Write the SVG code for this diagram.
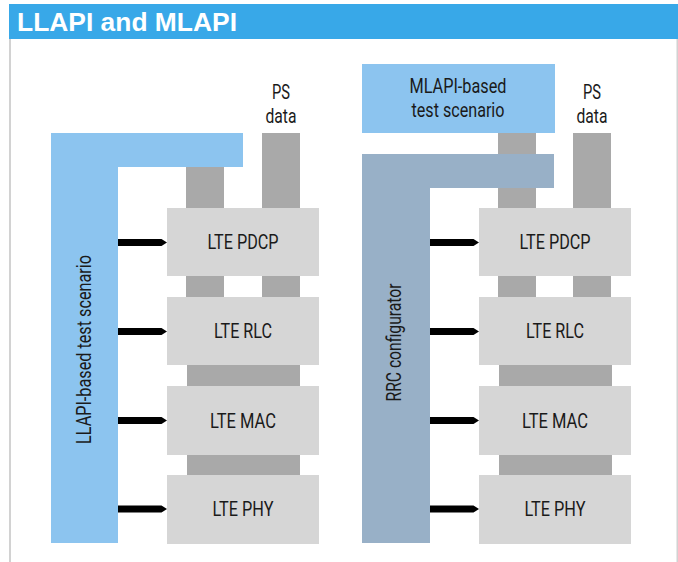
<svg xmlns="http://www.w3.org/2000/svg" width="678" height="562" viewBox="0 0 678 562">
  <style>
    .frame { fill: #d2d2d2; }
    .title { font-family: "Liberation Sans", Arial, sans-serif; font-weight: bold; font-size: 25px; fill: #ffffff; }
    .lbl { font-family: Roboto, "Liberation Sans", sans-serif; font-size: 20px; fill: #1a1a1a; text-anchor: middle; }
    .small { font-size: 19.5px; }
    .layer { fill: #d6d6d6; }
    .pipe { fill: #a9a9a9; }
    .llapi { fill: #8cc4ef; }
    .mlapi { fill: #8cc4ef; }
    .rrc { fill: #98b0c7; }
    .arrow { fill: #000000; }
  </style>
  <defs>
    <!-- thick control arrow pointing right, 49 px long -->
    <polygon id="ctl" points="0,-3.5 43.5,-3.5 49,0 43.5,3.5 0,3.5"/>
  </defs>

  <!-- page frame and heading -->
  <rect width="678" height="562" fill="#ffffff"/>
  <rect class="frame" x="9" y="39" width="2" height="523"/>
  <rect class="frame" x="676.5" y="39" width="1.5" height="523"/>
  <rect x="9" y="4" width="669" height="35" fill="#38a8e8"/>
  <text class="title" x="17" y="30.7" textLength="220" lengthAdjust="spacingAndGlyphs">LLAPI and MLAPI</text>

  <!-- data pipes between the protocol layers -->
  <g id="pipes">
    <rect class="pipe" x="186" y="150" width="38" height="147"/>
    <rect class="pipe" x="262" y="133" width="38" height="164"/>
    <rect class="pipe" x="187" y="360" width="113" height="120"/>
    <rect class="pipe" x="498" y="130" width="38" height="167"/>
    <rect class="pipe" x="573" y="133" width="38" height="164"/>
    <rect class="pipe" x="499" y="360" width="113" height="120"/>
  </g>

  <!-- left stack: LLAPI -->
  <g id="llapi-scenario">
    <path class="llapi" d="M51,133 H243 V167 H118 V543 H51 Z"/>
    <text class="lbl" transform="translate(90.5,349.5) rotate(-90)" textLength="189" lengthAdjust="spacingAndGlyphs">LLAPI-based test scenario</text>
  </g>
  <g id="ps-data-left">
    <text class="lbl small" x="281" y="99.3" textLength="18" lengthAdjust="spacingAndGlyphs">PS</text>
    <text class="lbl small" x="281" y="123.3" textLength="31" lengthAdjust="spacingAndGlyphs">data</text>
  </g>
  <g id="l-pdcp">
    <rect class="layer" x="167" y="208" width="152" height="68"/>
    <text class="lbl" x="243" y="249.3" textLength="71" lengthAdjust="spacingAndGlyphs">LTE PDCP</text>
  </g>
  <g id="l-rlc">
    <rect class="layer" x="167" y="297" width="152" height="68"/>
    <text class="lbl" x="243" y="338" textLength="58" lengthAdjust="spacingAndGlyphs">LTE RLC</text>
  </g>
  <g id="l-mac">
    <rect class="layer" x="167" y="386" width="152" height="69"/>
    <text class="lbl" x="243" y="427.5" textLength="66" lengthAdjust="spacingAndGlyphs">LTE MAC</text>
  </g>
  <g id="l-phy">
    <rect class="layer" x="167" y="475" width="152" height="69"/>
    <text class="lbl" x="243" y="516" textLength="61" lengthAdjust="spacingAndGlyphs">LTE PHY</text>
  </g>

  <!-- right stack: MLAPI via RRC configurator -->
  <g id="mlapi-scenario">
    <rect class="mlapi" x="362" y="64" width="193" height="69"/>
    <text class="lbl small" x="458" y="92.7" textLength="97" lengthAdjust="spacingAndGlyphs">MLAPI-based</text>
    <text class="lbl small" x="458" y="116.7" textLength="93" lengthAdjust="spacingAndGlyphs">test scenario</text>
  </g>
  <g id="rrc-configurator">
    <path class="rrc" d="M362,154 H554 V188 H430 V543 H362 Z"/>
    <text class="lbl" transform="translate(401,342.5) rotate(-90)" textLength="118" lengthAdjust="spacingAndGlyphs">RRC configurator</text>
  </g>
  <g id="ps-data-right">
    <text class="lbl small" x="592" y="99" textLength="18" lengthAdjust="spacingAndGlyphs">PS</text>
    <text class="lbl small" x="592" y="122.7" textLength="31" lengthAdjust="spacingAndGlyphs">data</text>
  </g>
  <g id="r-pdcp">
    <rect class="layer" x="479" y="208" width="152" height="68"/>
    <text class="lbl" x="555" y="249.3" textLength="71" lengthAdjust="spacingAndGlyphs">LTE PDCP</text>
  </g>
  <g id="r-rlc">
    <rect class="layer" x="479" y="297" width="152" height="68"/>
    <text class="lbl" x="555" y="338" textLength="58" lengthAdjust="spacingAndGlyphs">LTE RLC</text>
  </g>
  <g id="r-mac">
    <rect class="layer" x="479" y="386" width="152" height="69"/>
    <text class="lbl" x="555" y="427.5" textLength="66" lengthAdjust="spacingAndGlyphs">LTE MAC</text>
  </g>
  <g id="r-phy">
    <rect class="layer" x="479" y="475" width="152" height="69"/>
    <text class="lbl" x="555" y="516" textLength="61" lengthAdjust="spacingAndGlyphs">LTE PHY</text>
  </g>

  <!-- control connectors into each layer -->
  <g id="connectors" class="arrow">
    <use href="#ctl" x="118" y="242.5"/>
    <use href="#ctl" x="118" y="331.5"/>
    <use href="#ctl" x="118" y="420.5"/>
    <use href="#ctl" x="118" y="509"/>
    <use href="#ctl" x="430" y="242.5"/>
    <use href="#ctl" x="430" y="331.5"/>
    <use href="#ctl" x="430" y="420.5"/>
    <use href="#ctl" x="430" y="509"/>
  </g>
</svg>
